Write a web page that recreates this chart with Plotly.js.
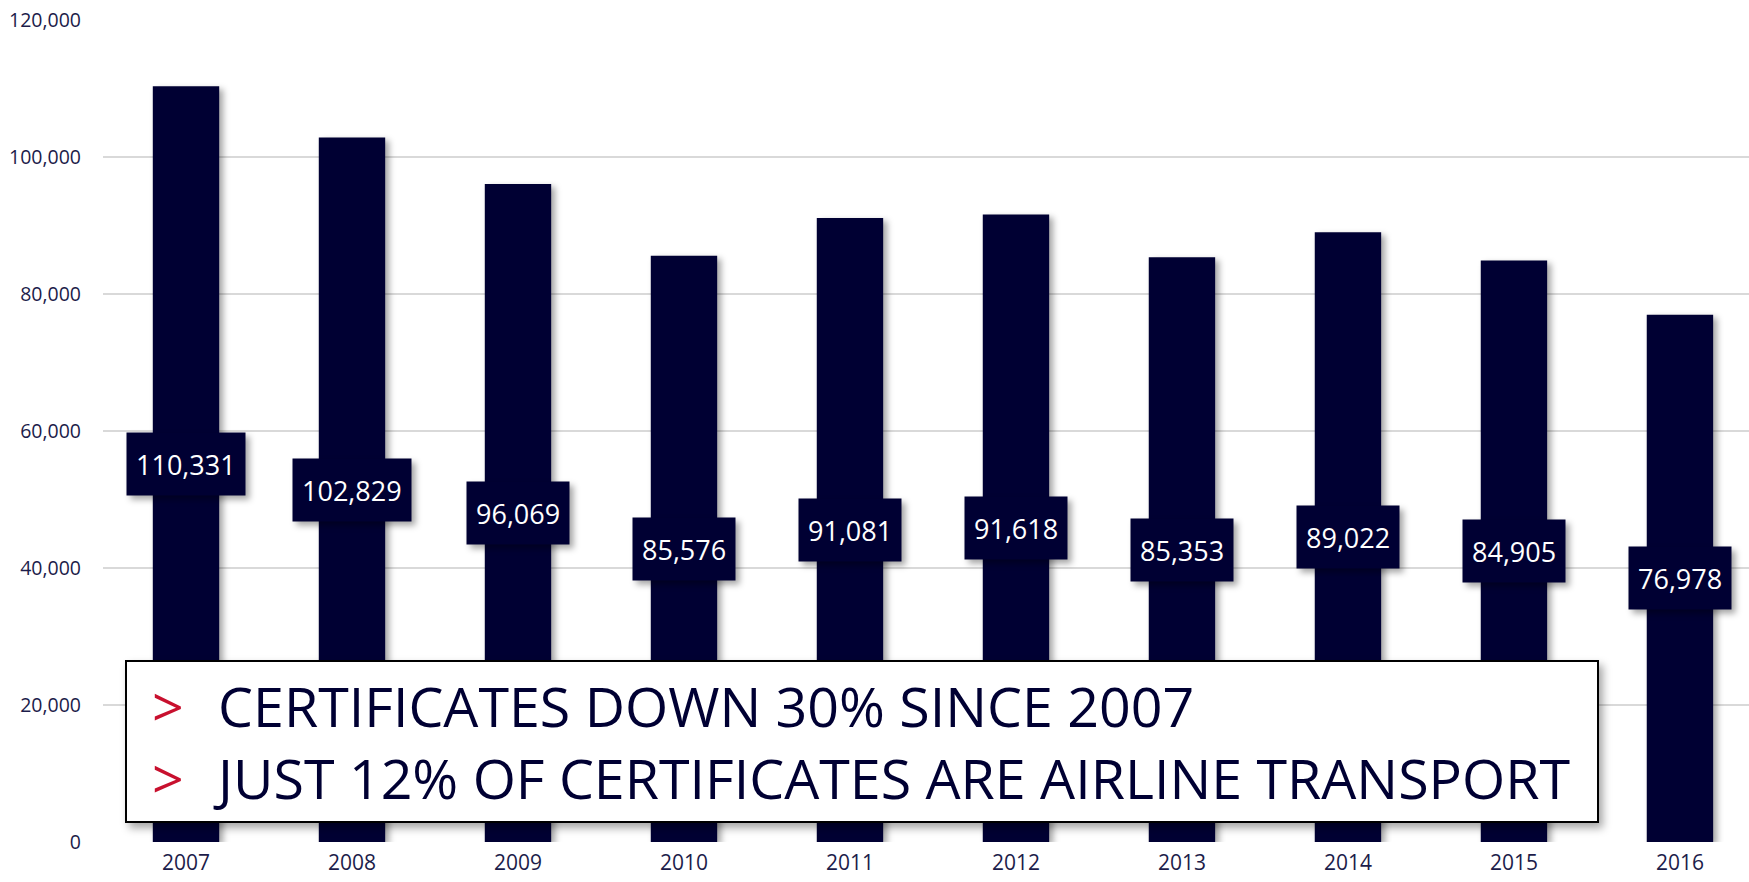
<!DOCTYPE html>
<html>
<head>
<meta charset="utf-8">
<script src="https://cdn.plot.ly/plotly-3.0.1.min.js"></script>
<style>
  html, body { margin: 0; padding: 0; background: #fff; }
  #chart { width: 1749px; height: 882px; }
  .trace.bars .point path { filter: drop-shadow(4px 3px 3px rgba(0,0,0,0.35)); }
  .annotation .bg { filter: drop-shadow(4px 4px 3px rgba(0,0,0,0.35)); }
  .shapelayer path { filter: drop-shadow(4px 5px 4px rgba(0,0,0,0.35)); }
</style>
</head>
<body>
<div id="chart"></div>
<script>
const years = ['2007','2008','2009','2010','2011','2012','2013','2014','2015','2016'];
const certificates = [110331, 102829, 96069, 85576, 91081, 91618, 85353, 89022, 84905, 76978];
const yTicks = [0, 20000, 40000, 60000, 80000, 100000, 120000];
const calloutLines = ['CERTIFICATES DOWN 30% SINCE 2007', 'JUST 12% OF CERTIFICATES ARE AIRLINE TRANSPORT'];

const navy = '#000033';
const textColor = '#1c1c4a';
const FONT = '"Open Sans", "Noto Sans", sans-serif';

const xIdx = years.map((_, i) => i);

const trace = {
  type: 'bar',
  x: xIdx,
  y: certificates,
  width: 0.4,
  marker: { color: navy, line: { width: 0 } },
  hoverinfo: 'skip'
};

const annotations = certificates.map((v, i) => ({
  x: i, y: v / 2, xref: 'x', yref: 'y',
  text: v.toLocaleString('en-US'),
  showarrow: false,
  font: { family: FONT, size: 27, color: '#ffffff' },
  bgcolor: navy,
  height: 44,
  borderpad: 9,
  xanchor: 'center', yanchor: 'middle'
}));

const plotW = 1646;
const calloutText = calloutLines
  .map(t => '<span style="color:#c8102e">&gt;</span>&nbsp;&nbsp;\u200A' + t)
  .join('<br>');
annotations.push({
  x: (150 - 103) / plotW, y: 0.1223, xref: 'paper', yref: 'paper',
  text: calloutText, showarrow: false, align: 'left',
  font: { family: FONT, size: 55.5, color: '#000033' },
  xanchor: 'left', yanchor: 'middle'
});

const layout = {
  width: 1749, height: 882,
  margin: { l: 103, r: 0, t: 20, b: 40, pad: 0 },
  paper_bgcolor: '#ffffff',
  plot_bgcolor: '#ffffff',
  showlegend: false,
  font: { family: FONT, color: textColor },
  xaxis: {
    range: [-0.5, 9.416],
    tickmode: 'array', tickvals: xIdx, ticktext: years,
    showgrid: false, zeroline: false, showline: false,
    ticks: '', tickfont: { size: 21, color: textColor },
    ticklabelstandoff: 6
  },
  yaxis: {
    range: [0, 120000],
    tickmode: 'array', tickvals: yTicks,
    tickformat: ',d',
    showgrid: true, gridcolor: '#d9d9d9', gridwidth: 2,
    zeroline: false, showline: false,
    ticks: '', tickfont: { size: 19.5, color: textColor },
    ticklabelstandoff: 21
  },
  shapes: [{
    type: 'rect', xref: 'paper', yref: 'paper',
    x0: (126 - 103) / plotW, x1: (1598 - 103) / plotW,
    y0: (842 - 822) / 822, y1: (842 - 661) / 822,
    fillcolor: '#ffffff', line: { color: '#000000', width: 2 },
    layer: 'above'
  }],
  annotations: annotations
};

Plotly.newPlot('chart', [trace], layout, { displayModeBar: false, staticPlot: true });
</script>
</body>
</html>
